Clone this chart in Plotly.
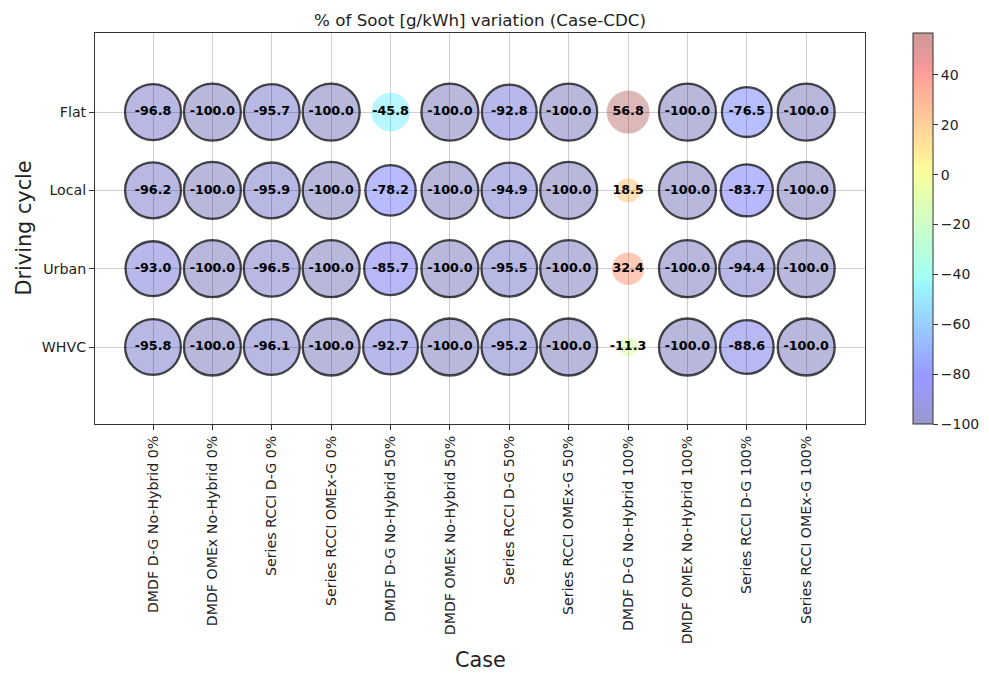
import numpy as np
import plotly.graph_objects as go

# ---------------- data ----------------
cases = [
    "DMDF D-G No-Hybrid 0%", "DMDF OMEx No-Hybrid 0%", "Series RCCI D-G 0%", "Series RCCI OMEx-G 0%",
    "DMDF D-G No-Hybrid 50%", "DMDF OMEx No-Hybrid 50%", "Series RCCI D-G 50%", "Series RCCI OMEx-G 50%",
    "DMDF D-G No-Hybrid 100%", "DMDF OMEx No-Hybrid 100%", "Series RCCI D-G 100%", "Series RCCI OMEx-G 100%",
]
cycles = ["WHVC", "Urban", "Local", "Flat"]

flat_vals = [-96.8, -100.0, -95.7, -100.0, -45.8, -100.0, -92.8, -100.0, 56.8, -100.0, -76.5, -100.0]
local_vals = [-96.2, -100.0, -95.9, -100.0, -78.2, -100.0, -94.9, -100.0, 18.5, -100.0, -83.7, -100.0]
urban_vals = [-93.0, -100.0, -96.5, -100.0, -85.7, -100.0, -95.5, -100.0, 32.4, -100.0, -94.4, -100.0]
whvc_vals = [-95.8, -100.0, -96.1, -100.0, -92.7, -100.0, -95.2, -100.0, -11.3, -100.0, -88.6, -100.0]

colorbar_ticks = [-100, -80, -60, -40, -20, 0, 20, 40]

# ---------------- styling helpers ----------------
rows = {"Flat": flat_vals, "Local": local_vals, "Urban": urban_vals, "WHVC": whvc_vals}

xs, ys, vs = [], [], []
for cyc in ["Flat", "Local", "Urban", "WHVC"]:
    for c, v in zip(cases, rows[cyc]):
        xs.append(c)
        ys.append(cyc)
        vs.append(v)
vs = np.array(vs)

# matplotlib 'jet' colormap with alpha 0.4
jet_r = [(0.0, 0.0), (0.35, 0.0), (0.66, 1.0), (0.89, 1.0), (1.0, 0.5)]
jet_g = [(0.0, 0.0), (0.125, 0.0), (0.375, 1.0), (0.64, 1.0), (0.91, 0.0), (1.0, 0.0)]
jet_b = [(0.0, 0.5), (0.11, 1.0), (0.34, 1.0), (0.65, 0.0), (1.0, 0.0)]
stops = sorted(set([p for p, _ in jet_r + jet_g + jet_b]))


def chan(seg, t):
    return float(np.interp(t, [p for p, _ in seg], [v for _, v in seg]))


alpha = 0.4
colorscale = [
    [t, "rgba(%d,%d,%d,%.2f)" % (round(255 * chan(jet_r, t)), round(255 * chan(jet_g, t)),
                                 round(255 * chan(jet_b, t)), alpha)]
    for t in stops
]

sizes = 5.7 * np.sqrt(np.abs(vs))
labels = ["%.1f" % v for v in vs]
edge_mask = vs < -50

fig = go.Figure()
# filled bubbles (semi-transparent jet colours)
fig.add_trace(go.Scatter(
    x=xs, y=ys, mode="markers",
    marker=dict(
        size=sizes, sizemode="diameter",
        color=vs, colorscale=colorscale, cmin=float(vs.min()), cmax=float(vs.max()),
        line=dict(width=0),
        colorbar=dict(
            x=(913 - 95) / 770, xanchor="left", xpad=0, ypad=0,
            y=0.5, yanchor="middle", len=1, lenmode="fraction",
            thickness=20, outlinewidth=1, outlinecolor="#333",
            tickvals=colorbar_ticks, ticks="outside", ticklen=5, tickcolor="#333",
            tickfont=dict(family="DejaVu Sans", size=14, color="#222"),
        ),
    ),
    showlegend=False, hoverinfo="skip",
))
# black outlines for strongly reduced cases
fig.add_trace(go.Scatter(
    x=[x for x, m in zip(xs, edge_mask) if m],
    y=[y for y, m in zip(ys, edge_mask) if m],
    mode="markers",
    marker=dict(size=sizes[edge_mask], sizemode="diameter", color="rgba(0,0,0,0)",
                line=dict(color="black", width=2.3)),
    showlegend=False, hoverinfo="skip",
))
# value labels
fig.add_trace(go.Scatter(
    x=xs, y=ys, mode="text",
    text=labels, textposition="middle center",
    textfont=dict(family="DejaVu Sans", size=12.7, color="black", weight="bold"),
    showlegend=False, hoverinfo="skip",
))

axis_common = dict(
    showline=True, mirror=True, linecolor="#333", linewidth=1,
    ticks="outside", ticklen=5, tickcolor="#333",
    showgrid=True, gridcolor="#cfcfcf", gridwidth=1, zeroline=False,
    tickfont=dict(family="DejaVu Sans", size=14.2, color="#222"),
)

fig.update_layout(
    width=989, height=673,
    margin=dict(l=95, r=124, t=33, b=249, autoexpand=False),
    paper_bgcolor="white", plot_bgcolor="white",
    font=dict(family="DejaVu Sans", color="#222"),
    title=dict(text="% of Soot [g/kWh] variation (Case-CDC)", x=0.5, xref="paper", xanchor="center",
               y=1 - 20 / 673, yref="container", yanchor="middle",
               font=dict(family="DejaVu Sans", size=16.7, color="#222")),
    xaxis=dict(type="category", categoryorder="array", categoryarray=cases,
               range=[-0.977, 11.99], tickangle=-90, **axis_common),
    yaxis=dict(type="category", categoryorder="array", categoryarray=cycles,
               range=[-0.983, 4.01], **axis_common),
    annotations=[
        dict(text="Case", xref="paper", yref="paper", x=0.5, y=(424 - 660) / 391,
             xanchor="center", yanchor="middle", showarrow=False,
             font=dict(family="DejaVu Sans", size=20.8, color="#222")),
        dict(text="Driving cycle", xref="paper", yref="paper", x=(23 - 95) / 770, y=0.5,
             xanchor="center", yanchor="middle", textangle=-90, showarrow=False,
             font=dict(family="DejaVu Sans", size=20.8, color="#222")),
    ],
)

fig.write_html("out.html")
